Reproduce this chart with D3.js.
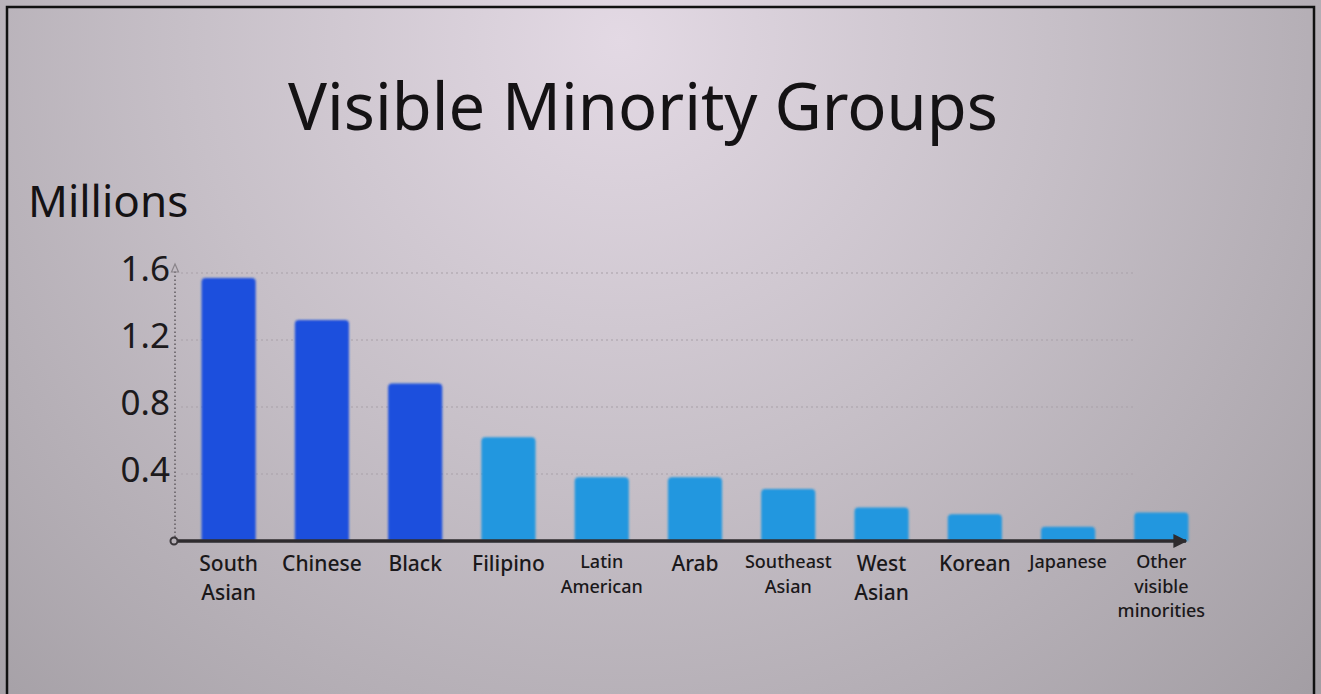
<!DOCTYPE html>
<html>
<head>
<meta charset="utf-8">
<script src="https://cdn.jsdelivr.net/npm/d3@7"></script>
<style>
  html, body { margin: 0; padding: 0; background: #fff; }
  svg { display: block; font-family: "Noto Sans", "Open Sans", sans-serif; }
</style>
</head>
<body>
<svg id="chart" width="1321" height="694"></svg>
<script>
// values (millions)
const categories = ["South Asian", "Chinese", "Black", "Filipino", "Latin American", "Arab",
  "Southeast Asian", "West Asian", "Korean", "Japanese", "Other visible minorities"];
const labelLines = [["South", "Asian"], ["Chinese"], ["Black"], ["Filipino"], ["Latin", "American"],
  ["Arab"], ["Southeast", "Asian"], ["West", "Asian"], ["Korean"], ["Japanese"], ["Other", "visible", "minorities"]];
const values = [1.57, 1.32, 0.94, 0.62, 0.38, 0.38, 0.31, 0.20, 0.16, 0.085, 0.17];
const yTicks = [0.4, 0.8, 1.2, 1.6];

const svg = d3.select("#chart");
const width = +svg.attr("width");
const height = +svg.attr("height");

// background
const defs = svg.append("defs");
const bg = defs.append("radialGradient")
  .attr("id", "bg")
  .attr("gradientUnits", "userSpaceOnUse")
  .attr("cx", 620).attr("cy", 40).attr("r", 950);
bg.append("stop").attr("offset", 0).attr("stop-color", "#e3d9e4");
bg.append("stop").attr("offset", 0.45).attr("stop-color", "#c7c0c8");
bg.append("stop").attr("offset", 1).attr("stop-color", "#a39ea4");

const glow = defs.append("filter").attr("id", "glow").attr("x", "-20%").attr("y", "-20%")
  .attr("width", "140%").attr("height", "140%");
glow.append("feGaussianBlur").attr("stdDeviation", 0.8);

defs.append("marker")
  .attr("id", "xarrow")
  .attr("markerUnits", "userSpaceOnUse")
  .attr("viewBox", "0 -5 10 10")
  .attr("refX", 9).attr("refY", 0)
  .attr("markerWidth", 14).attr("markerHeight", 14)
  .attr("orient", "auto")
  .append("path")
  .attr("d", "M0,-5L10,0L0,5Z")
  .attr("fill", "#2e2b2e");

svg.append("rect").attr("width", width).attr("height", height).attr("fill", "url(#bg)");

// frame
svg.append("path")
  .attr("d", `M7,${height} L7,7 L1314,7 L1314,${height}`)
  .attr("fill", "none").attr("stroke", "#111").attr("stroke-width", 2.5);

// scales
const x = d3.scaleBand()
  .domain(categories)
  .range([182, 1208])
  .paddingInner(0.42)
  .paddingOuter(0.21);

const y = d3.scaleLinear()
  .domain([0, 1.6])
  .range([541, 273]);

const x0 = 175;

// gridlines
svg.append("g")
  .selectAll("line")
  .data(yTicks)
  .join("line")
  .attr("x1", x0 + 6).attr("x2", 1135)
  .attr("y1", d => y(d)).attr("y2", d => y(d))
  .attr("stroke", "#aaa3ab")
  .attr("stroke-width", 1.5)
  .attr("stroke-dasharray", "2,3")
  .attr("opacity", 0.7);

// y tick labels
svg.append("g")
  .selectAll("text")
  .data(yTicks)
  .join("text")
  .attr("x", 170)
  .attr("y", d => y(d) + 8)
  .attr("text-anchor", "end")
  .attr("font-size", 35)
  .attr("fill", "#1c1a1c")
  .text(d3.format(".1f"));

// bars
svg.append("g")
  .selectAll("path")
  .data(values)
  .join("path")
  .attr("d", (d, i) => {
    const bx = x(categories[i]), bw = x.bandwidth(), by = y(d), r = 4;
    const b = y(0);
    return `M${bx},${b} L${bx},${by + r} Q${bx},${by} ${bx + r},${by} L${bx + bw - r},${by} Q${bx + bw},${by} ${bx + bw},${by + r} L${bx + bw},${b} Z`;
  })
  .attr("fill", (d, i) => i < 3 ? "#1b4fdd" : "#2297df")
  .attr("filter", "url(#glow)");

// y axis (dotted, with open arrow)
svg.append("line")
  .attr("x1", x0).attr("x2", x0)
  .attr("y1", y(0) - 4).attr("y2", y(1.6) - 2)
  .attr("stroke", "#777177").attr("stroke-width", 2)
  .attr("stroke-dasharray", "1.5,2.5");
svg.append("path")
  .attr("d", `M${x0 - 3.5},${y(1.6) - 1} L${x0},${y(1.6) - 9} L${x0 + 3.5},${y(1.6) - 1} Z`)
  .attr("fill", "none").attr("stroke", "#8a848a").attr("stroke-width", 1.2);

// x axis
svg.append("line")
  .attr("x1", x0 + 3).attr("x2", 1186)
  .attr("y1", y(0)).attr("y2", y(0))
  .attr("stroke", "#2e2b2e").attr("stroke-width", 3.5)
  .attr("marker-end", "url(#xarrow)");
svg.append("circle")
  .attr("cx", x0 - 1).attr("cy", y(0)).attr("r", 3.5)
  .attr("fill", "none").attr("stroke", "#3a363a").attr("stroke-width", 2);

// category labels
const small = new Set(["Latin American", "Southeast Asian", "Japanese", "Other visible minorities"]);
const labels = svg.append("g")
  .selectAll("text")
  .data(categories)
  .join("text")
  .attr("text-anchor", "middle")
  .attr("fill", "#1a181a")
  .attr("font-weight", 500)
  .attr("font-size", d => small.has(d) ? 18 : 21)
  .attr("transform", d => `translate(${x(d) + x.bandwidth() / 2},${small.has(d) ? 568 : 571})`);

labels.selectAll("tspan")
  .data((d, i) => labelLines[i].map(t => ({ t, s: small.has(d) })))
  .join("tspan")
  .attr("x", 0)
  .attr("dy", (d, i) => i === 0 ? 0 : (d.s ? 24.5 : 28.5))
  .text(d => d.t);

// titles
svg.append("text")
  .attr("x", 643).attr("y", 130)
  .attr("text-anchor", "middle")
  .attr("font-size", 65)
  .attr("fill", "#141214")
  .text("Visible Minority Groups");

svg.append("text")
  .attr("x", 28).attr("y", 217)
  .attr("font-size", 44)
  .attr("fill", "#141214")
  .text("Millions");
</script>
</body>
</html>
